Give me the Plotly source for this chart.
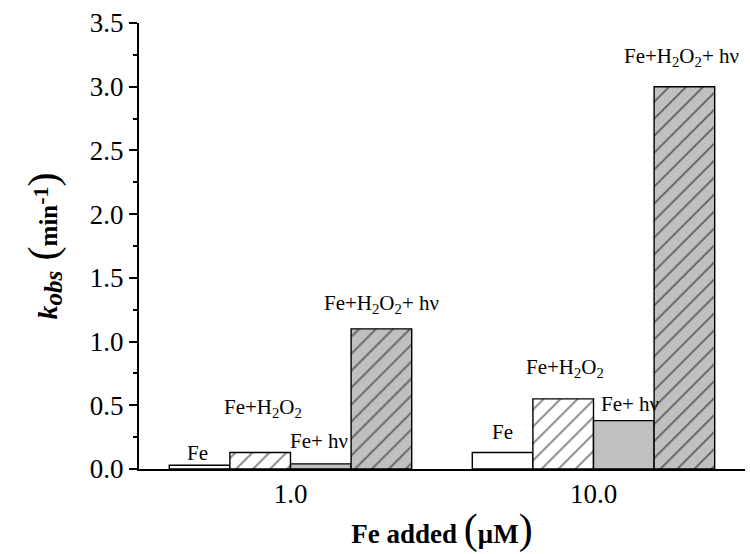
import plotly.graph_objects as go

# ---- data ----
groups = ["1.0", "10.0"]
series_names = ["Fe", "Fe+H2O2", "Fe+hv", "Fe+H2O2+hv"]
series_labels = ["Fe", "Fe+H<sub>2</sub>O<sub>2</sub>", "Fe+ hν", "Fe+H<sub>2</sub>O<sub>2</sub>+ hν"]
fe = [0.03, 0.13]
fe_h2o2 = [0.13, 0.55]
fe_hv = [0.04, 0.38]
fe_h2o2_hv = [1.10, 3.00]
all_values = [fe, fe_h2o2, fe_hv, fe_h2o2_hv]

# ---- styles ----
fills = ["white", "white", "#c0c0c0", "#c0c0c0"]
hatches = ["", "/", "", "/"]
FONT = "Liberation Serif"
LABEL_SIZE = 21

# label placement: pixels from bar top to label baseline, and horizontal nudge
label_gap = [[4, 38, 14, 18], [12, 24, 8, 23]]
label_dx = [[-2, 3, -2, 0], [0, 2, 6, -3]]

fig = go.Figure()
for name, vals, fc, hs in zip(series_names, all_values, fills, hatches):
    fig.add_trace(go.Bar(
        x=groups, y=vals, name=name,
        marker=dict(color=fc, line=dict(color="black", width=1.4),
                    pattern=dict(shape=hs, fgcolor="black", bgcolor=fc, size=12, solidity=0.15)),
    ))

bargap = 0.2
n = len(series_names)
w = (1 - bargap) / n
for gi in range(len(groups)):
    for si in range(n):
        off = -0.5 + bargap / 2 + w * (si + 0.5)
        has_sub = "<sub>" in series_labels[si]
        d = 8.5 if has_sub else 5.5
        fig.add_annotation(
            x=gi + off, y=all_values[si][gi], xref="x", yref="y",
            text=series_labels[si], showarrow=False,
            xanchor="center", yanchor="bottom",
            yshift=label_gap[gi][si] - d, xshift=label_dx[gi][si],
            font=dict(family=FONT, size=LABEL_SIZE, color="black"),
        )

ytitle = ("<i><b><span style='font-size:28px'>k</span></b></i>"
          "<sub><i><b><span style='font-size:25px'>obs</span></b></i></sub>"
          "<span style='font-size:42px'> (</span><b><span style='font-size:25px'>min</span></b>"
          "<sup><b><span style='font-size:22px'>-1</span></b></sup><span style='font-size:42px'>)</span>")

fig.update_layout(
    width=750, height=554,
    margin=dict(l=139, r=5, t=23, b=85),
    paper_bgcolor="white", plot_bgcolor="white",
    barmode="group", bargap=bargap, bargroupgap=0,
    showlegend=False,
    font=dict(family=FONT, color="black"),
    xaxis=dict(
        type="category", range=[-0.5, 1.5],
        showline=True, linecolor="black", linewidth=2,
        ticks="", showgrid=False, zeroline=False,
        tickfont=dict(family=FONT, size=27),
        title=dict(text="<b>Fe added </b><span style='font-size:42px'>(</span><b>μM</b><span style='font-size:42px'>)</span>",
                   font=dict(family=FONT, size=27), standoff=16),
    ),
    yaxis=dict(
        range=[0, 3.5], dtick=0.5, tickformat=".1f",
        showline=True, linecolor="black", linewidth=2,
        ticks="outside", ticklen=8, tickwidth=2, tickcolor="black",
        minor=dict(dtick=0.25, ticks="outside", ticklen=4, tickwidth=2, tickcolor="black"),
        showgrid=False, zeroline=False,
        tickfont=dict(family=FONT, size=27),
        title=dict(text=ytitle, font=dict(family=FONT, size=22), standoff=26),
    ),
)

fig.write_html("out.html")
